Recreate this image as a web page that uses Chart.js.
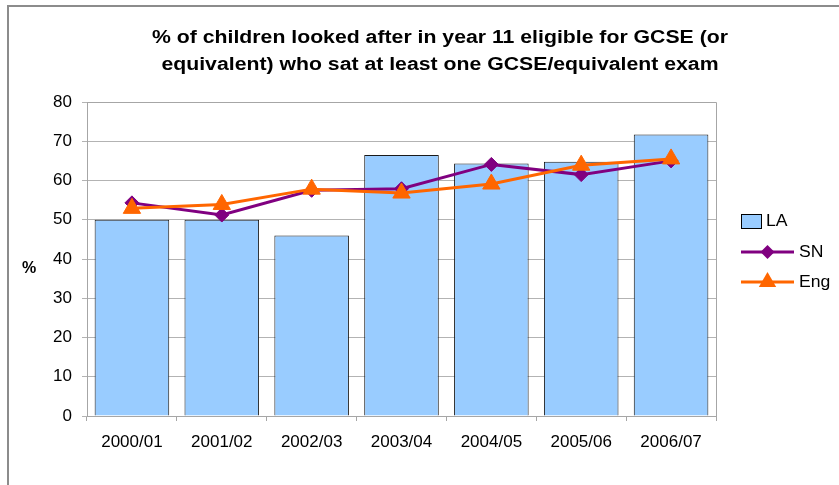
<!DOCTYPE html>
<html>
<head>
<meta charset="utf-8">
<script src="https://cdn.jsdelivr.net/npm/chart.js@4"></script>
<style>
  html, body { margin: 0; padding: 0; background: #fff; }
  #wrap { width: 839px; height: 485px; position: relative; }
</style>
</head>
<body>
<div id="wrap"><canvas id="chart" width="839" height="485"></canvas></div>
<script>
const YEARS = ['2000/01', '2001/02', '2002/03', '2003/04', '2004/05', '2005/06', '2006/07'];
const LA_VALUES = [50, 50, 46, 66.5, 64.3, 64.8, 71.7];
const SN_VALUES = [54.3, 51.2, 57.5, 57.9, 64.1, 61.5, 65];
const ENG_VALUES = [52.9, 53.9, 57.8, 56.8, 59.1, 63.9, 65.5];
const Y_TICKS = [0, 10, 20, 30, 40, 50, 60, 70, 80];

const TITLE_LINES = [
    '% of children looked after in year 11 eligible for GCSE (or',
    'equivalent) who sat at least one GCSE/equivalent exam'
];

const FONT = '"Liberation Sans", Arial, sans-serif';

function drawMarker(c, style, x, y, r) {
    if (style === 'rectRot') {
        c.moveTo(x, y - r);
        c.lineTo(x + r, y);
        c.lineTo(x, y + r);
        c.lineTo(x - r, y);
    } else {
        c.moveTo(x, y - r);
        c.lineTo(x + r * 0.87, y + r * 0.5);
        c.lineTo(x - r * 0.87, y + r * 0.5);
    }
    c.closePath();
}

// text drawn a bit wider than normal, like the original's title
function wideText(c, text, x, y, sx) {
    c.save();
    c.translate(x, y);
    c.scale(sx, 1);
    c.fillText(text, 0, 0);
    c.restore();
}

// frame, title, "%" label, plot border and legend
const decorations = {
    id: 'decorations',
    beforeDraw(chart) {
        const c = chart.ctx;
        c.save();
        c.fillStyle = '#fff';
        c.fillRect(0, 0, chart.width, chart.height);
        c.strokeStyle = '#8c8c8c';
        c.lineWidth = 2;
        c.beginPath();
        c.moveTo(8, chart.height + 2);
        c.lineTo(8, 6);
        c.lineTo(chart.width + 2, 6);
        c.stroke();
        c.restore();
    },
    afterDraw(chart) {
        const c = chart.ctx;
        const a = chart.chartArea;
        c.save();
        c.strokeStyle = '#a6a6a6';
        c.lineWidth = 1;
        c.beginPath();
        c.moveTo(a.left, a.top + 0.5);
        c.lineTo(a.right + 0.5, a.top + 0.5);
        c.lineTo(a.right + 0.5, a.bottom);
        c.stroke();

        // title
        c.fillStyle = '#000';
        c.font = 'bold 18px ' + FONT;
        c.textAlign = 'center';
        c.textBaseline = 'alphabetic';
        wideText(c, TITLE_LINES[0], 440, 43, 1.18);
        wideText(c, TITLE_LINES[1], 440, 69.5, 1.18);

        // y axis label
        c.textBaseline = 'middle';
        c.font = 'bold 16px ' + FONT;
        c.fillText('%', 29, 269);

        // legend
        const ds = chart.data.datasets;
        const x0 = 741, x1 = 794;
        c.font = '16px ' + FONT;
        c.textAlign = 'left';
        c.fillStyle = ds[0].backgroundColor;
        c.strokeStyle = '#000';
        c.fillRect(741, 214, 20, 14);
        c.strokeRect(741.5, 214.5, 20, 14);
        c.fillStyle = '#000';
        wideText(c, 'LA', 766, 222, 1.1);
        [[ds[1], 252], [ds[2], 282]].forEach(([d, y]) => {
            c.strokeStyle = d.borderColor;
            c.lineWidth = 3;
            c.beginPath();
            c.moveTo(x0, y);
            c.lineTo(x1, y);
            c.stroke();
            c.fillStyle = d.backgroundColor;
            c.beginPath();
            drawMarker(c, d.pointStyle, (x0 + x1) / 2, y, d.pointRadius);
            c.fill();
            c.fillStyle = '#000';
            wideText(c, d.label, 799, y + 1, 1.1);
        });
        c.restore();
    }
};

new Chart(document.getElementById('chart'), {
    type: 'bar',
    data: {
        labels: YEARS,
        datasets: [
            {
                type: 'bar',
                label: 'LA',
                data: LA_VALUES,
                backgroundColor: '#99ccff',
                borderColor: '#1a1a1a',
                borderWidth: 1,
                categoryPercentage: 1,
                barPercentage: 0.83,
                order: 3
            },
            {
                type: 'line',
                label: 'SN',
                data: SN_VALUES,
                borderColor: '#800080',
                backgroundColor: '#800080',
                borderWidth: 3,
                pointStyle: 'rectRot',
                pointRadius: 7,
                pointBorderWidth: 1,
                tension: 0,
                order: 2
            },
            {
                type: 'line',
                label: 'Eng',
                data: ENG_VALUES,
                borderColor: '#ff6600',
                backgroundColor: '#ff6600',
                borderWidth: 3,
                pointStyle: 'triangle',
                pointRadius: 10,
                pointBorderWidth: 1,
                tension: 0,
                order: 1
            }
        ]
    },
    options: {
        responsive: false,
        animation: false,
        layout: { padding: { top: 102, right: 123, bottom: 0, left: 0 } },
        plugins: {
            legend: { display: false },
            title: { display: false },
            tooltip: { enabled: false }
        },
        scales: {
            x: {
                grid: { offset: true, drawOnChartArea: false, drawTicks: true, tickLength: 5, color: '#a6a6a6' },
                border: { color: '#a6a6a6' },
                ticks: { color: '#000', font: { family: FONT, size: 17 }, padding: 11, maxRotation: 0 },
                afterFit(s) { s.height = 69; }
            },
            y: {
                min: 0,
                max: 80,
                afterBuildTicks(s) { s.ticks = Y_TICKS.map(v => ({ value: v })); },
                grid: { color: '#b3b3b3', tickLength: 5, drawTicks: true },
                border: { color: '#a6a6a6' },
                ticks: { color: '#000', font: { family: FONT, size: 17 }, padding: 10 },
                afterFit(s) { s.width = 87; }
            }
        }
    },
    plugins: [decorations]
});
</script>
</body>
</html>
